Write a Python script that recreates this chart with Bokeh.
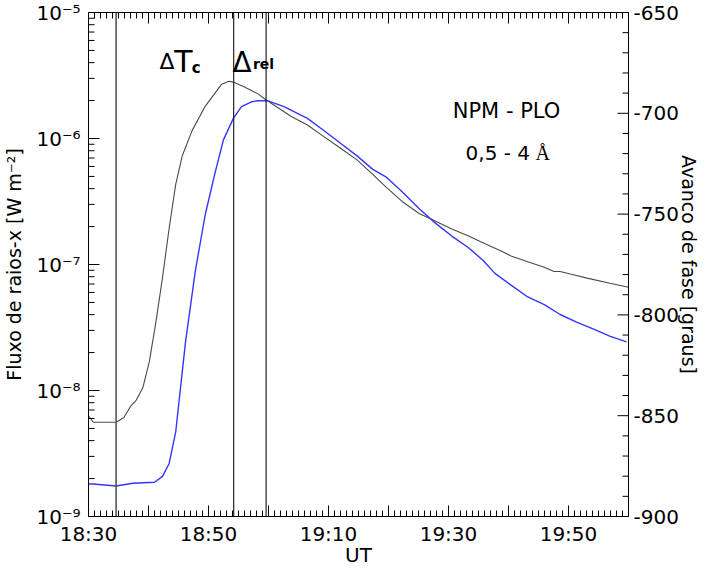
import numpy as np
from bokeh.plotting import figure
from bokeh.models import (Range1d, LinearAxis, FixedTicker, CustomJSTickFormatter,
                          Span, Label, LinearScale, Arrow, ColumnDataSource)
from bokeh.embed import file_html
from bokeh.resources import INLINE

# ---------------- data ----------------
# time in minutes after 18:30 UT
black_t = [0, 0.8, 4.6, 5.9, 7.1, 7.9, 9.05, 10.15, 11.24, 12.34, 13.44, 14.53, 15.63,
           17.28, 19.41, 22.2, 23.4, 24.2, 26.0, 28.25, 29.57, 33.73, 36.48, 39.16,
           41.95, 44.7, 47.38, 49.64, 52.32, 55.12, 57.86, 60.55, 63.34, 66.09, 68.77,
           70.42, 73.2, 75.96, 77.6, 78.6, 80.3, 83.1, 86.9, 90]
# X-ray flux [W m^-2]
black_flux = [6.3e-9, 5.6e-9, 5.6e-9, 6.1e-9, 7.6e-9, 8.3e-9, 1.05e-8, 1.7e-8, 3.5e-8,
              7.9e-8, 1.94e-7, 4.3e-7, 7.3e-7, 1.16e-6, 1.79e-6, 2.70e-6, 2.85e-6,
              2.80e-6, 2.56e-6, 2.26e-6, 2.03e-6, 1.50e-6, 1.28e-6, 1.04e-6, 8.4e-7,
              6.8e-7, 5.2e-7, 4.1e-7, 3.15e-7, 2.54e-7, 2.2e-7, 1.91e-7, 1.68e-7,
              1.46e-7, 1.28e-7, 1.17e-7, 1.05e-7, 9.5e-8, 8.8e-8, 8.8e-8, 8.4e-8,
              7.8e-8, 7.1e-8, 6.6e-8]

blue_t = [0, 0.8, 4.6, 7.4, 11.0, 12.34, 13.44, 14.53, 16.17, 17.82, 19.46, 21.11,
          22.49, 24.14, 25.5, 27.15, 28.25, 29.9, 32.58, 36.48, 39.16, 41.95, 44.7,
          47.38, 49.64, 52.32, 55.12, 57.86, 60.55, 63.34, 65.81, 67.74, 70.42, 73.2,
          75.96, 78.6, 81.44, 84.19, 86.87, 89.67]
# phase advance [degrees]
blue_phase = [-883.9, -883.9, -884.9, -883.5, -883.0, -880.1, -873.7, -858.2, -813.4,
              -777.9, -750.2, -729.3, -713.2, -702.5, -696.7, -694.3, -693.8, -693.8,
              -696.7, -702.5, -708.4, -714.7, -721.0, -727.8, -731.7, -739.0, -747.3,
              -754.6, -760.9, -766.7, -773.1, -779.4, -785.2, -791.1, -794.9, -799.8,
              -803.7, -807.1, -810.5, -813.4]

event_t = [4.6, 24.2, 29.6]

x_ticks = [0, 10, 20, 30, 40, 50, 60, 70, 80, 90]
x_labels = ["18:30", "", "18:50", "", "19:10", "", "19:30", "", "19:50", ""]
x_minor = list(range(0, 91))

y_ticks = [1e-9, 1e-8, 1e-7, 1e-6, 1e-5]
y_labels = ["10\u207b\u2079", "10\u207b\u2078", "10\u207b\u2077", "10\u207b\u2076", "10\u207b\u2075"]
y_minor = [m * 10.0 ** e for e in range(-9, -5) for m in range(2, 10)]

r_ticks = [-900, -850, -800, -750, -700, -650]
r_labels = ["-900", "-850", "-800", "-750", "-700", "-650"]
r_minor = [v for v in range(-900, -649, 10) if v % 50 != 0]

X0, X1 = 0, 90
Y0, Y1 = 1e-9, 1e-5
R0, R1 = -900, -650

FW, FH = 540, 504          # frame size in px
MAJ, MIN = 11, 6           # inward tick lengths in px

FONT = "DejaVu Sans"

p = figure(frame_width=FW, frame_height=FH, output_backend="svg", toolbar_location=None,
           y_axis_type="log", x_range=Range1d(X0, X1), y_range=Range1d(Y0, Y1),
           min_border_left=87, min_border_top=12, min_border_right=0, min_border_bottom=0)
p.extra_y_ranges = {"phase": Range1d(R0, R1)}
p.extra_y_scales = {"phase": LinearScale()}
p.grid.visible = False
p.outline_line_color = "black"
p.background_fill_color = "white"
p.border_fill_color = "white"

fmt_code = """
for (let i = 0; i < tv.length; i++) {
  if (Math.abs(tv[i] - tick) <= 1e-6 * Math.max(1e-12, Math.abs(tv[i]))) return tl[i];
}
return "";
"""

def style_axis(ax):
    ax.axis_line_color = "black"
    ax.major_tick_in = 0
    ax.major_tick_out = 0
    ax.minor_tick_in = 0
    ax.minor_tick_out = 0
    ax.major_label_text_font = FONT
    ax.major_label_text_font_size = "20px"
    ax.major_label_text_color = "black"
    ax.axis_label_text_font = FONT
    ax.axis_label_text_font_style = "normal"
    ax.axis_label_text_color = "black"

# bottom axis
xa = p.xaxis[0]
style_axis(xa)
xa.ticker = FixedTicker(ticks=x_ticks, minor_ticks=x_minor)
xa.formatter = CustomJSTickFormatter(args=dict(tv=x_ticks, tl=x_labels), code=fmt_code)
xa.axis_label = "UT"
xa.axis_label_text_font_size = "20px"
xa.major_label_standoff = 5
xa.axis_label_standoff = -6

# left axis
ya = p.yaxis[0]
style_axis(ya)
ya.ticker = FixedTicker(ticks=y_ticks, minor_ticks=y_minor)
ya.formatter = CustomJSTickFormatter(args=dict(tv=y_ticks, tl=y_labels), code=fmt_code)
ya.axis_label = "Fluxo de raios-x [W m\u207b\u00b2]"
ya.axis_label_text_font_size = "19px"
ya.major_label_standoff = 8
ya.axis_label_standoff = 8

# right axis
ra = LinearAxis(y_range_name="phase")
style_axis(ra)
ra.ticker = FixedTicker(ticks=r_ticks, minor_ticks=r_minor)
ra.formatter = CustomJSTickFormatter(args=dict(tv=r_ticks, tl=r_labels), code=fmt_code)
ra.axis_label = "Avanco de fase [graus]"
ra.axis_label_text_font_size = "19px"
ra.major_label_standoff = 5
ra.axis_label_standoff = -4
p.add_layout(ra, "right")

# top axis (frame line only)
ta = LinearAxis()
style_axis(ta)
ta.ticker = FixedTicker(ticks=x_ticks, minor_ticks=x_minor)
ta.formatter = CustomJSTickFormatter(code='return "";')
ta.major_label_standoff = 0
p.add_layout(ta, "above")

# curves
p.line(black_t, black_flux, line_color="#4a4a4a", line_width=1.1)
p.line(blue_t, blue_phase, y_range_name="phase", line_color="#3535ff", line_width=1.4)

# event lines
for i, t in enumerate(event_t):
    p.add_layout(Span(location=t, dimension="height",
                      line_color="#555555" if i == 0 else "#111111",
                      line_width=1.6 if i == 0 else 1.1))

# ---- inward tick marks as head-less Arrow annotations (lengths converted from px) ----
TK = "#000000"
dx_per_px = (X1 - X0) / FW
fy = lambda L: 10 ** (L * 4.0 / FH)

bx0, by0, bx1, by1 = [], [], [], []
for t in x_minor:
    L = MAJ if t in x_ticks else MIN
    bx0 += [t, t]
    bx1 += [t, t]
    by0 += [Y0, Y1]
    by1 += [Y0 * fy(L), Y1 / fy(L)]
for v in y_ticks + y_minor:
    L = MAJ if v in y_ticks else MIN
    bx0.append(X0)
    bx1.append(X0 + L * dx_per_px)
    by0.append(v)
    by1.append(v)
src_main = ColumnDataSource(dict(x0=bx0, y0=by0, x1=bx1, y1=by1))
p.add_layout(Arrow(x_start="x0", y_start="y0", x_end="x1", y_end="y1", source=src_main,
                   end=None, line_color=TK, line_width=1))

rx0, ry0, rx1, ry1 = [], [], [], []
for v in r_ticks + r_minor:
    L = MAJ if v in r_ticks else MIN
    rx0.append(X1)
    rx1.append(X1 - L * dx_per_px)
    ry0.append(v)
    ry1.append(v)
src_r = ColumnDataSource(dict(x0=rx0, y0=ry0, x1=rx1, y1=ry1))
p.add_layout(Arrow(x_start="x0", y_start="y0", x_end="x1", y_end="y1", source=src_r,
                   end=None, line_color=TK, line_width=1, y_range_name="phase"))

# annotations
def lab(x, y, text, size, style="normal", font=FONT, align="left"):
    p.add_layout(Label(x=x, y=y, text=text, text_font=font, text_font_size=size,
                       text_font_style=style, text_align=align,
                       text_baseline="alphabetic", text_color="black"))

lab(11.85, 4.08e-6, "\u0394", "22px")
lab(14.3, 4.08e-6, "T", "30px")
lab(17.2, 3.6e-6, "c", "15px", "bold")
lab(24.0, 4.0e-6, "\u0394", "28px")
lab(27.4, 3.87e-6, "rel", "14px", "bold")
lab(69.67, 1.667e-6, "NPM - PLO", "21px", align="center")
lab(62.85, 7.7e-7, "0,5 - 4", "20px")
lab(74.5, 7.7e-7, "\u00c5", "20px", font="Liberation Serif")

open("out.html", "w").write(file_html(p, INLINE))
